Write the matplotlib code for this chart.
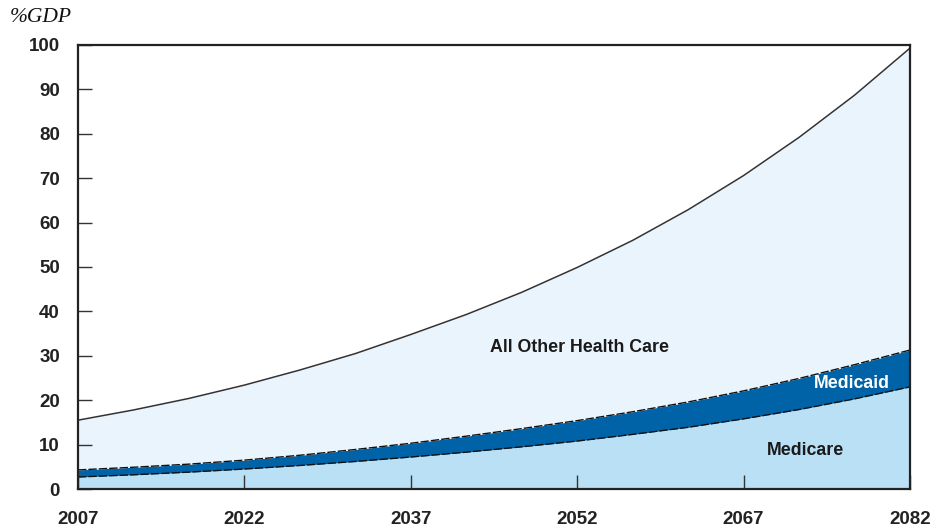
import matplotlib
matplotlib.use("Agg")
import matplotlib.pyplot as plt
import numpy as np

years = [2007, 2012, 2017, 2022, 2027, 2032, 2037, 2042, 2047, 2052,
         2057, 2062, 2067, 2072, 2077, 2082]
# boundary lines, % of GDP
medicare = [2.7, 3.2, 3.8, 4.5, 5.3, 6.2, 7.2, 8.3, 9.5, 10.8,
            12.3, 13.9, 15.8, 17.9, 20.3, 23.0]
medicare_plus_medicaid = [4.3, 4.9, 5.6, 6.5, 7.6, 8.9, 10.3, 11.9, 13.6, 15.4,
                          17.4, 19.6, 22.1, 24.9, 28.0, 31.3]
total_health = [15.5, 17.8, 20.4, 23.4, 26.8, 30.5, 34.8, 39.3, 44.3, 49.9,
                56.0, 62.9, 70.6, 79.2, 88.7, 99.3]

xticks = [2007, 2022, 2037, 2052, 2067, 2082]
yticks = [0, 10, 20, 30, 40, 50, 60, 70, 80, 90, 100]

c_medicare = "#b9e0f5"
c_medicaid = "#0063a7"
c_other = "#eaf4fd"

fig = plt.figure(figsize=(9.32, 5.31), dpi=100)
ax = fig.add_axes([78/932, 1-489/531, (910-78)/932, (489-45)/531])

x = np.array(years)
ax.fill_between(x, 0, medicare, color=c_medicare, lw=0)
ax.fill_between(x, medicare, medicare_plus_medicaid, color=c_medicaid, lw=0)
ax.fill_between(x, medicare_plus_medicaid, total_health, color=c_other, lw=0)
ax.plot(x, medicare, color="#111111", lw=1.0, ls=(0, (6, 1.5)))
ax.plot(x, medicare_plus_medicaid, color="#111111", lw=1.0, ls=(0, (6, 1.5)))
ax.plot(x, total_health, color="#333333", lw=1.1)

ax.set_xlim(2007, 2082)
ax.set_ylim(0, 100)
ax.set_xticks(xticks)
ax.set_yticks(yticks)

fam = ["Liberation Sans", "DejaVu Sans"]
ax.set_xticklabels([str(t) for t in xticks], fontfamily=fam, fontweight="bold", fontsize=13.5, color="#222222")
ax.set_yticklabels([str(t) for t in yticks], fontfamily=fam, fontweight="bold", fontsize=13.5, color="#222222")
ax.tick_params(axis="x", direction="in", length=10, width=1.0, pad=15.5, color="#333333")
ax.tick_params(axis="y", direction="in", length=10, width=1.0, pad=13, color="#333333")
for s in ax.spines.values():
    s.set_linewidth(1.6)
    s.set_color("#222222")

ax.text(2052.2, 31.8, "All Other Health Care", fontfamily=fam, fontweight="bold",
        fontsize=12.8, ha="center", va="center", color="#1a1a1a")
ax.text(2076.8, 23.8, "Medicaid", fontfamily=fam, fontweight="bold",
        fontsize=12.8, ha="center", va="center", color="white")
ax.text(2072.6, 8.6, "Medicare", fontfamily=fam, fontweight="bold",
        fontsize=12.8, ha="center", va="center", color="#1a1a1a")

fig.text(10/932, 1-17/531, "%GDP", fontfamily=["Liberation Serif", "DejaVu Serif"],
         fontstyle="italic", fontsize=15.5, ha="left", va="center", color="#111111")

fig.savefig("out.png", dpi=100)
